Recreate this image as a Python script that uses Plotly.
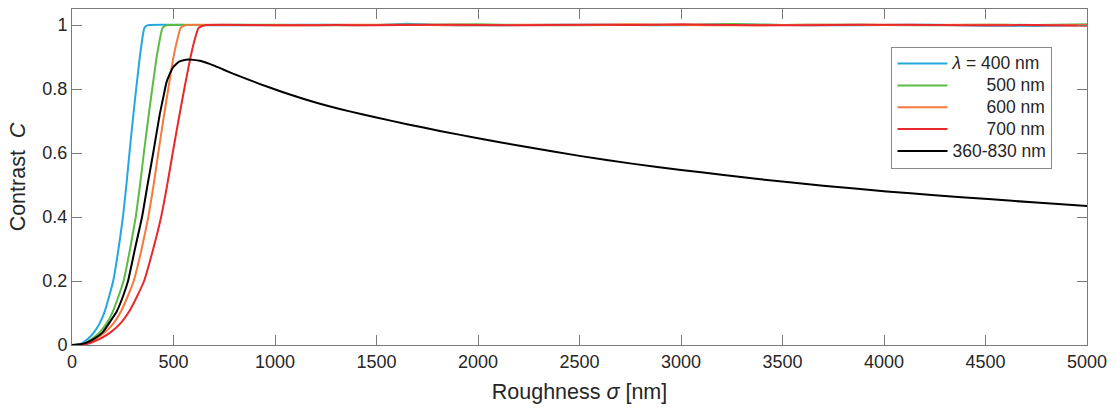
import plotly.graph_objects as go

# ---- data ----
C_rise = [0, 0.001, 0.004, 0.01, 0.02, 0.041, 0.07, 0.103, 0.15, 0.2, 0.3, 0.4, 0.5, 0.6, 0.7, 0.8, 0.9, 0.96, 0.99, 0.997, 1.0]
C_flat = [1.0, 0.999, 1.0, 1.001, 1.0, 1.004, 1.0, 0.999, 1.0, 1.001, 1.0, 0.999, 1.002, 1.0, 0.999, 1.0, 1.001, 0.998, 0.997, 1.0]

sigma_400 = [0, 24, 44, 60, 80, 110, 138, 160, 182, 203, 229, 251, 268, 283, 299, 316, 334, 347, 356, 366, 380,
             600, 800, 1000, 1250, 1500, 1650, 1800, 2000, 2250, 2500, 2750, 3000, 3250, 3500, 3750, 4000, 4250, 4500, 4750, 5000]
C_400 = C_rise + C_flat

sigma_500 = [0, 30, 55, 75, 100, 138, 173, 200, 228, 254, 286, 314, 335, 354, 374, 395, 417, 434, 445, 458, 475,
             700, 900, 1100, 1300, 1500, 1750, 2000, 2250, 2500, 2750, 3000, 3250, 3500, 3750, 4000, 4250, 4500, 4750, 5000]
C_500 = C_rise + [1.0, 1.001, 1.0, 0.999, 1.0, 1.001, 1.002, 1.0, 0.999, 1.001, 1.0, 1.003, 1.0, 1.001, 1.0, 0.999, 1.001, 1.0, 1.002]

sigma_600 = [0, 36, 66, 90, 120, 165, 207, 240, 273, 304, 343, 376, 402, 425, 449, 474, 500, 521, 534, 549, 570,
             800, 1000, 1200, 1500, 1750, 2000, 2250, 2500, 2750, 3000, 3250, 3500, 3750, 4000, 4250, 4500, 4750, 5000]
C_600 = C_rise + [1.0, 0.999, 1.0, 1.001, 1.0, 0.999, 1.001, 1.0, 1.002, 1.0, 0.999, 1.0, 1.001, 1.0, 1.0, 1.001, 0.999, 1.0]

sigma_700 = [0, 42, 77, 105, 140, 193, 242, 280, 319, 355, 400, 439, 469, 496, 524, 553, 584, 607, 623, 641, 665,
             900, 1100, 1300, 1500, 1750, 2000, 2250, 2500, 2750, 3000, 3250, 3500, 3750, 4000, 4250, 4500, 4750, 5000]
C_700 = C_rise + [1.0, 0.999, 1.0, 0.999, 1.001, 1.0, 0.999, 1.001, 1.0, 1.002, 1.0, 0.999, 1.0, 1.001, 1.0, 0.999, 1.0, 0.998]

sigma_white = [0, 40, 60, 80, 110, 153, 190, 219, 250, 276, 310, 345, 372, 400, 432, 450, 465, 482, 498, 515, 530, 550,
               572, 600, 630, 662, 700, 745, 793, 850, 920, 1040, 1200, 1368, 1500, 1650, 1812, 2000, 2227, 2500, 2767,
               3000, 3200, 3391, 3700, 4013, 4250, 4513, 4750, 5000]
C_white = [0, 0.002, 0.005, 0.01, 0.02, 0.041, 0.075, 0.103, 0.15, 0.2, 0.3, 0.4, 0.5, 0.6, 0.72, 0.775, 0.82, 0.848,
           0.868, 0.879, 0.886, 0.89, 0.892, 0.891, 0.888, 0.882, 0.873, 0.861, 0.848, 0.834, 0.817, 0.79, 0.758, 0.73,
           0.711, 0.69, 0.669, 0.646, 0.62, 0.591, 0.566, 0.547, 0.532, 0.518, 0.498, 0.48, 0.468, 0.456, 0.445, 0.434]

legend_names = ["<i>λ</i>\u00a0= 400 nm",
                "\u00a0" * 7 + "500 nm",
                "\u00a0" * 7 + "600 nm",
                "\u00a0" * 7 + "700 nm",
                "360-830 nm"]
colors = ["#22A7E0", "#5BBB45", "#F47A3E", "#E8282B", "#000000"]

x_ticks = [0, 500, 1000, 1500, 2000, 2500, 3000, 3500, 4000, 4500, 5000]
y_ticks = [0, 0.2, 0.4, 0.6, 0.8, 1]
y_ticklabels = ["0", "0.2", "0.4", "0.6", "0.8", "1"]

series = [(sigma_400, C_400), (sigma_500, C_500), (sigma_600, C_600), (sigma_700, C_700), (sigma_white, C_white)]

fig = go.Figure()
for (xs, ys), name, col in zip(series, legend_names, colors):
    fig.add_trace(go.Scatter(x=xs, y=ys, mode="lines",
                             name='<span style="font-size:17.5px">' + name + '</span>',
                             line=dict(color=col, width=2, shape="spline", smoothing=0.4)))

FONT = "Liberation Sans, Arial, Helvetica, sans-serif"
axcol = "#7a7a7a"
fig.update_layout(
    width=1116, height=408,
    margin=dict(l=72, r=29, t=8, b=62),
    paper_bgcolor="white", plot_bgcolor="white",
    font=dict(family=FONT, size=18, color="#262626"),
    showlegend=True,
    legend=dict(x=0.966, y=0.888, xanchor="right", yanchor="top",
                bgcolor="white", bordercolor="#8a8a8a", borderwidth=1, itemwidth=50,
                font=dict(size=14.5, color="#262626"), tracegroupgap=0),
)
fig.update_xaxes(range=[0, 5000], tickvals=x_ticks, ticktext=[str(v) for v in x_ticks],
                 showline=True, linecolor=axcol, linewidth=1, mirror="ticks",
                 ticks="inside", ticklen=10, tickcolor=axcol, showgrid=False, zeroline=False,
                 tickfont=dict(size=18),
                 title=dict(text="Roughness <i>σ</i> [nm]", font=dict(size=21.5), standoff=13))
fig.update_yaxes(range=[0, 1.05], tickvals=y_ticks, ticktext=y_ticklabels,
                 showline=True, linecolor=axcol, linewidth=1, mirror="ticks",
                 ticks="inside", ticklen=10, tickcolor=axcol, showgrid=False, zeroline=False,
                 tickfont=dict(size=18),
                 title=dict(text="Contrast\u00a0\u00a0<i>C</i>", font=dict(size=21.5), standoff=10))

fig.write_html("out.html")
